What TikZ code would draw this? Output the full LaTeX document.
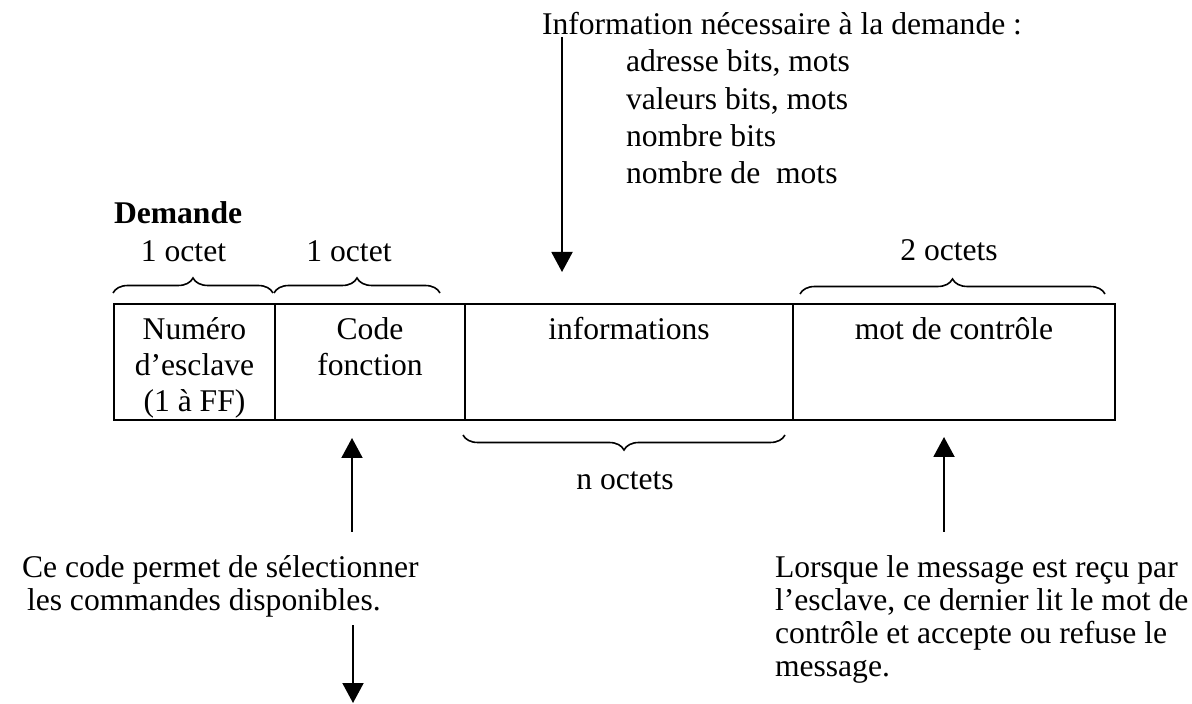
\documentclass[tikz,border=0pt]{standalone}
\usepackage{fontspec}
\setmainfont{Liberation Serif}
\usetikzlibrary{arrows.meta,decorations.pathreplacing}
% stacked lines whose first baseline is the baseline of the box
\newcommand{\txtstack}[2]{\begin{tabular}[t]{@{}#1@{}}#2\end{tabular}}

\begin{document}
\begin{tikzpicture}[x=0.5pt,y=-0.5pt,
  every node/.style={inner sep=0pt, outer sep=0pt},
  txt/.style={font=\fontsize{15.8}{18.6}\selectfont},
  celltxt/.style={font=\fontsize{15.8}{18}\selectfont},
  notetxt/.style={font=\fontsize{15.8}{16.5}\selectfont},
  cell/.style={draw, line width=1.1pt, anchor=north west, minimum height=58pt},
  brc/.style={decorate, decoration={brace, amplitude=7.5pt}, line width=0.8pt},
  arr/.style={line width=1pt, -{Triangle[width=10.5pt,length=10pt]}}]

\path[use as bounding box] (0,0) rectangle (1192,704);

% frame title
\node[font=\fontsize{15.8}{18.6}\selectfont\bfseries, anchor=base west] (demande) at (114,224) {Demande};

% frame fields
\node[cell, minimum width=80.5pt] (slave) at (114,304) {};
\node[cell, minimum width=95pt]   (func)  at (275,304) {};
\node[cell, minimum width=164pt]  (info)  at (465,304) {};
\node[cell, minimum width=161pt]  (crc)   at (793,304) {};

\node[celltxt, anchor=base] (slaveTxt) at (194.5,340) {\txtstack{c}{Numéro\\ d’esclave\\ (1 à FF)}};
\node[celltxt, anchor=base] (funcTxt)  at (370,340) {\txtstack{c}{Code\\ fonction}};
\node[celltxt, anchor=base] (infoTxt)  at (629,340) {informations};
\node[celltxt, anchor=base] (crcTxt)   at (954,340) {mot de contrôle};

% field sizes
\draw[brc] (113,293) -- (273,293);
\draw[brc] (274,293) -- (440,293);
\draw[brc] (800,294) -- (1105,294);
\draw[brc] (785,435) -- (463,435);

\node[txt, anchor=base] (sz1) at (183.5,262) {1 octet};
\node[txt, anchor=base] (sz2) at (349,262) {1 octet};
\node[txt, anchor=base] (sz4) at (949,261) {2 octets};
\node[txt, anchor=base] (sz3) at (625,490) {n octets};

% content of the information field
\node[txt, anchor=base west] (need) at (542,35) {Information nécessaire à la demande :};
\node[txt, anchor=base west] (needList) at (626,72)
  {\txtstack{l}{adresse bits, mots\\ valeurs bits, mots\\ nombre bits\\ nombre de~ mots}};

% notes
\node[notetxt, anchor=base west] (codeNote) at (22,577)
  {\txtstack{l}{Ce code permet de sélectionner\\ \hspace{2.5pt}les commandes disponibles.}};
\node[notetxt, anchor=base west] (crcNote) at (775,577)
  {\txtstack{l}{Lorsque le message est reçu par\\ l’esclave, ce dernier lit le mot de\\ contrôle et accepte ou refuse le\\ message.}};

% arrows
\coordinate (needTail) at (562,37);
\coordinate (needTip)  at (562,272);
\coordinate (codeTail) at (352,532);
\coordinate (codeTip)  at (352,438);
\coordinate (crcTail)  at (944,532);
\coordinate (crcTip)   at (944,437);
\coordinate (cmdTail)  at (353,625);
\coordinate (cmdTip)   at (353,703);

\draw[arr] (needTail) -- (needTip);
\draw[arr] (codeTail) -- (codeTip);
\draw[arr] (crcTail)  -- (crcTip);
\draw[arr] (cmdTail)  -- (cmdTip);
\end{tikzpicture}
\end{document}
